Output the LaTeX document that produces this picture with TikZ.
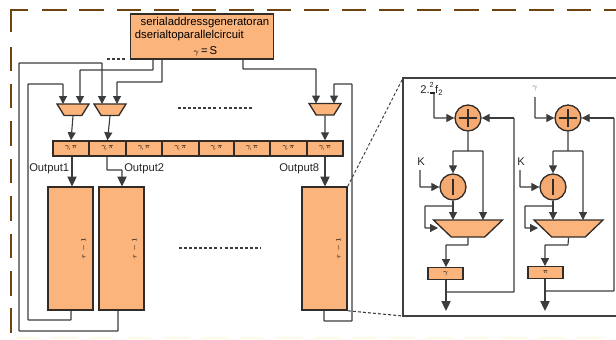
\documentclass[tikz,border=0pt]{standalone}
\usepackage{fontspec}
\setmainfont{Liberation Sans}
\usetikzlibrary{arrows.meta,shapes.geometric,positioning}
\definecolor{fillor}{HTML}{FBB47C}
\definecolor{fillci}{HTML}{F5AA72}
\definecolor{edge}{HTML}{332C26}
\definecolor{wirec}{HTML}{3C3C3C}
\definecolor{framec}{HTML}{6E4310}
\definecolor{palec}{HTML}{FFFCE6}
\newcommand{\tinyphantom}{\phantom{\rule{1pt}{1pt}}}
\tikzset{
  box/.style={draw=edge,line width=1.2pt,fill=fillor,inner sep=0pt,rectangle},
  cellbox/.style={box,line width=1.1pt,minimum height=15*.75pt,font=\fontsize{5.2}{5.5}\selectfont},
  membox/.style={box,minimum width=45*.75pt,minimum height=123*.75pt},
  smallmux/.style={draw=edge,line width=1pt,fill=fillor,inner sep=0pt,trapezium,shape border rotate=180,trapezium stretches=true,trapezium angle=68,minimum width=32*.75pt,minimum height=11.5*.75pt},
  bigmux/.style={draw=edge,line width=1pt,fill=fillor,inner sep=0pt,trapezium,shape border rotate=180,trapezium stretches=true,trapezium angle=62,minimum width=69*.75pt,minimum height=17*.75pt},
  opcirc/.style={draw=edge,line width=1pt,fill=fillci,circle,inner sep=0pt,minimum size=26*.75pt},
  plusop/.style={opcirc,path picture={\draw[edge,line width=.9pt,shift={(path picture bounding box.center)}] (-9,0)--(9,0) (0,-9)--(0,9);}},
  minusop/.style={opcirc,path picture={\draw[edge,line width=.9pt,shift={(path picture bounding box.center)}] (0,-8)--(0,8);}},
  wire/.style={draw=wirec,line width=.85pt,rounded corners=.4pt},
  flow/.style={wire,-{Triangle[length=6pt,width=6pt]}},
  bigflow/.style={wire,-{Triangle[length=7.5pt,width=7pt]}},
  lab/.style={font=\fontsize{8.4}{10}\selectfont,inner sep=0pt,text=black!85},
  memlab/.style={rotate=90,font=\fontsize{5.5}{6}\selectfont,inner sep=0pt},
  framedash/.style={draw=framec,line width=1.9pt,dash pattern=on 18.4pt off 9.7pt},
  dotline/.style={draw=wirec,line width=.9pt,dash pattern=on 2.2pt off 1.6pt},
  panelline/.style={draw=black!75,line width=1.2pt},
}
\begin{document}
\begin{tikzpicture}[x=.75pt,y=-.75pt]
\useasboundingbox (0,0) rectangle (616,339);
% frame
\draw[framedash] (11,333) -- (11,47);
\draw[draw=framec,line width=1.9pt] (11,32) -- (11,10) -- (28,10);
\draw[framedash] (42,10) -- (616,10);
\draw[draw=palec,line width=1.5pt,dash pattern=on 18.4pt off 9.7pt] (15,338) -- (606,338);
% address generator
\node[box,minimum width=143*.75pt,minimum height=45*.75pt,align=left,anchor=center,font=\fontsize{8.5}{9.75}\selectfont] (gen) at (202,36.5)
  {\hspace*{4.4pt}serialaddressgeneratoran\\[.2pt]dserialtoparallelcircuit\\[2pt]\hspace*{44pt}{\fontsize{6}{6}\selectfont$\gamma$}\,=\,S\hspace*{20pt}};
% muxes
\node[smallmux] (mA) at (73,109.7) {\tinyphantom};
\node[smallmux] (mB) at (110,109.7) {\tinyphantom};
\node[smallmux] (mC) at (325,109.2) {\tinyphantom};
% register
\foreach \nm/\xa/\xb in {c1/53/89,c2/89/126,c3/126/162,c4/162/199,c5/199/234,c6/234/270,c7/270/307,c8/307/343}{
  \pgfmathsetmacro{\xc}{(\xa+\xb)/2}
  \pgfmathsetmacro{\cellw}{(\xb-\xa)*.75}
  \node[cellbox,minimum width=\cellw pt] (\nm) at (\xc,148.5) {$\gamma_{\!,}\pi$};
}
% memories
\node[membox] (r1) at (70.5,248.5) {};
\node[membox] (r2) at (121.5,248.5) {};
\node[membox] (r8) at (324.5,248.5) {};
\node[memlab] (t1) at (84,248.5) {$\tau-1$};
\node[memlab] (t2) at (135,248.5) {$\tau-1$};
\node[memlab] (t8) at (339,248.5) {$\tau-1$};
% wires to muxes
\coordinate (gA) at (153,59);
\coordinate (gB) at (162,59);
\coordinate (gC) at (243,59);
\draw[flow] (gA) -- (153,70) -| (80,104);
\draw[flow] (gB) -- (162,82) -| (117,104);
\draw[flow] (gC) -- (243,69) -| (316,103.5);
% feedback
\draw[wire,flow] (r2.south -| 118,0) -- (118,331) -- (19,331) -- (19,63) -- (102,63) -- (102,104);
\draw[wire,flow] (r1.south -| 71,0) -- (71,320) -- (28,320) -- (28,84) -- (63,84) -- (63,104);
\draw[wire,flow] (r8.south -| 324,0) -- (324,321) -- (352,321) -- (352,84) -- (334,84) -- (334,103.5);
% mux to register
\draw[flow] (mA.south) -- (c1.north);
\draw[flow] (mB.south) -- (c2.north);
\draw[flow] (mC.south) -- (c8.north);
% register to memories
\draw[bigflow] (c1.south -| 72,0) -- (72,186.5);
\draw[bigflow] (c2.south -| 107,0) -- (107,170) -| (122,186.5);
\draw[bigflow] (c8.south -| 325,0) -- (325,186.5);
% output labels
\node[lab,anchor=base west] (o1) at (29,171.5) {Output1};
\node[lab,anchor=base west] (o2) at (124,171.5) {Output2};
\node[lab,anchor=base west] (o8) at (279,171.5) {Output8};
% continuation dots
\draw[dotline] (107,59) -- (126,59);
\draw[dotline] (178,108) -- (253,108);
\draw[dotline] (179,248) -- (261,248);
% zoom panel
\coordinate (pTL) at (403,78);
\coordinate (pBL) at (403,316);
\coordinate (pTR) at (616,78);
\coordinate (pBR) at (616,316);
\draw[panelline] (pTR) -- (pTL) -- (pBL) -- (pBR);
\draw[dotline,line width=.7pt] (r8.north east) -- (pTL);
\draw[dotline,line width=.8pt] (r8.south east) -- (pBL);
% left datapath
\node[plusop] (addL) at (468,118) {};
\node[minusop] (subL) at (453,187) {};
\node[bigmux] (muxL) at (468,228.5) {\tinyphantom};
\node[box,line width=1pt,minimum width=35*.75pt,minimum height=11.5*.75pt,font=\fontsize{5.5}{5.5}\selectfont] (regL) at (445.5,273.5) {$\gamma$};
\node[lab,anchor=base west,font=\fontsize{8.4}{10}\selectfont] (inL) at (420,93.5) {2.\rlap{\raisebox{4.2pt}{\fontsize{5.5}{6}\selectfont 2}}\hspace{.4pt}\rule{3.4pt}{1.3pt}\hspace{.4pt}f\textsubscript{2}};
\node[lab] (kL) at (421,162) {K};
\coordinate (inLc) at (434,94);
\coordinate (kLc) at (420,170);
\coordinate (outL) at (446,311);
\draw[flow] (inLc) |- (addL.west);
\draw[flow] (514,118) -- (addL.east);
\draw[wire] (514,118) -- (514,292) -- (446,292);
\draw[flow] (addL.south) -- (468,151) -| (subL.north);
\draw[flow] (468,151) -| (483,220);
\draw[flow] (kLc) |- (subL.west);
\draw[flow] (subL.south) -- (453,220);
\draw[flow] (453,206) -| (425,228) -- (438,228);
\draw[flow] (muxL.south) -- (468,245) -| (regL.north -| 446,0);
\draw[bigflow] (regL.south -| 446,0) -- (outL);
% right datapath
\node[plusop] (addR) at (568,118) {};
\node[minusop] (subR) at (553,187) {};
\node[bigmux] (muxR) at (568.5,228.5) {\tinyphantom};
\node[box,line width=1pt,minimum width=35*.75pt,minimum height=11.5*.75pt,font=\fontsize{5.5}{5.5}\selectfont] (regR) at (545.5,272.5) {$\pi$};
\node[lab,text=black!55,font=\fontsize{6}{6}\selectfont] (inR) at (535,89) {$\gamma$};
\node[lab] (kR) at (521,162) {K};
\coordinate (inRc) at (535,97);
\coordinate (kRc) at (520,170);
\coordinate (outR) at (545,311);
\draw[flow] (inRc) |- (addR.west);
\draw[flow] (614,118) -- (addR.east);
\draw[wire] (614,118) -- (614,291) -- (545,291);
\draw[flow] (addR.south) -- (568,151) -| (subR.north);
\draw[flow] (568,151) -| (583,220);
\draw[flow] (kRc) |- (subR.west);
\draw[flow] (subR.south) -- (553,220);
\draw[flow] (553,206) -| (525,228) -- (538,228);
\draw[flow] (muxR.south) -- (568,245) -| (regR.north -| 545,0);
\draw[bigflow] (regR.south -| 545,0) -- (outR);
\end{tikzpicture}
\end{document}
